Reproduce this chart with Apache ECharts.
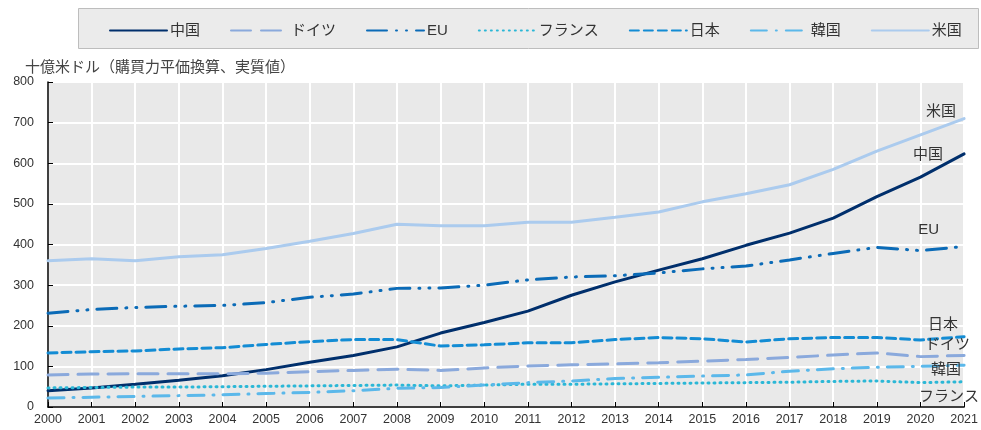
<!DOCTYPE html>
<html>
<head>
<meta charset="utf-8">
<script src="https://cdn.jsdelivr.net/npm/echarts@6/dist/echarts.min.js"></script>
<style>
  html, body { margin: 0; padding: 0; background: #fff; }
  #main { width: 981px; height: 430px; }
</style>
</head>
<body>
<div id="main"></div>
<script>
    var years = ['2000', '2001', '2002', '2003', '2004', '2005', '2006', '2007', '2008', '2009', '2010',
        '2011', '2012', '2013', '2014', '2015', '2016', '2017', '2018', '2019', '2020', '2021'];
    var yTicks = [0, 100, 200, 300, 400, 500, 600, 700, 800];
    var china = [40, 47, 56, 66, 77, 92, 110, 127, 148, 182, 208, 236, 275, 308, 337, 365, 398, 428, 465, 518, 566, 623];
    var germany = [79, 81, 82, 82, 82, 83, 87, 90, 93, 90, 96, 101, 104, 106, 109, 113, 117, 122, 128, 133, 124, 127];
    var eu = [231, 240, 245, 248, 250, 257, 270, 278, 292, 293, 300, 313, 320, 323, 330, 340, 347, 362, 378, 393, 385, 395];
    var france = [47, 48, 49, 49, 50, 51, 52, 53, 54, 52, 54, 56, 56, 57, 58, 59, 60, 61, 63, 64, 60, 62];
    var japan = [133, 136, 138, 143, 146, 154, 161, 166, 166, 150, 153, 158, 158, 166, 171, 168, 160, 168, 171, 171, 165, 173];
    var korea = [22, 24, 26, 28, 30, 33, 36, 40, 46, 48, 54, 60, 64, 70, 73, 76, 79, 88, 94, 98, 100, 103];
    var usa = [360, 365, 360, 370, 375, 390, 408, 427, 450, 446, 446, 455, 455, 467, 480, 505, 525, 547, 585, 630, 670, 710];

    var FONT = '"Liberation Sans", "Noto Sans CJK JP", sans-serif';
    var chart = echarts.init(document.getElementById('main'));

    // 系列を作る
    function makeLine(name, data, color, type, labelOffset) {
        return {
            name: name,
            type: 'line',
            data: data,
            symbol: 'none',
            smooth: false,
            z: 3,
            lineStyle: { color: color, width: 3, type: type, cap: 'round' },
            itemStyle: { color: color },
            endLabel: {
                show: true,
                formatter: name,
                align: 'right',
                verticalAlign: 'middle',
                offset: labelOffset,
                color: '#333',
                fontSize: 15,
                fontFamily: FONT
            }
        };
    }

    var series = [
        makeLine('中国', china, '#002F6C', 'solid', [-29, 1]),
        makeLine('ドイツ', germany, '#8AA9DC', [20, 10], [-2, -11]),
        makeLine('EU', eu, '#0B6BB7', [20, 9, 1, 9, 1, 9], [-33, -17]),
        makeLine('フランス', france, '#2BB7D6', [1, 5], [7, 15]),
        makeLine('日本', japan, '#138CD4', [9, 5], [-14, -12]),
        makeLine('韓国', korea, '#5BB8EA', [16, 9, 1, 9], [-11, 5]),
        makeLine('米国', usa, '#ABCBEE', 'solid', [-16, -7])
    ];

    chart.setOption({
        animation: false,
        backgroundColor: '#fff',
        textStyle: { fontFamily: FONT },
        graphic: [{
            type: 'rect',
            left: 78, top: 8,
            shape: { width: 900, height: 40 },
            style: { fill: '#ebebeb', stroke: '#bdbdbd', lineWidth: 1 },
            z: -1
        }],
        title: {
            text: '十億米ドル（購買力平価換算、実質値）',
            left: 20, top: 55,
            textStyle: { fontSize: 15, fontWeight: 'normal', color: '#444', fontFamily: FONT }
        },
        legend: {
            left: 104, top: 18,
            itemWidth: 57, itemHeight: 14,
            itemGap: 30,
            itemStyle: { opacity: 0 },
            textStyle: { fontSize: 15, color: '#333', fontFamily: FONT, padding: [0, 0, 0, -2] },
            data: series.map(function (s) { return s.name; })
        },
        grid: {
            left: 48, right: 15, top: 82, bottom: 23,
            show: true, backgroundColor: '#e9e9e9', borderWidth: 0
        },
        xAxis: {
            type: 'category',
            data: years,
            boundaryGap: false,
            axisLine: { lineStyle: { color: '#000', width: 1.5 } },
            axisTick: { inside: true, length: 5, lineStyle: { color: '#000' } },
            axisLabel: { fontSize: 12.5, color: '#333', margin: 6, fontFamily: FONT },
            splitLine: { show: true, lineStyle: { color: '#fff', width: 2 } }
        },
        yAxis: {
            type: 'value',
            min: yTicks[0], max: yTicks[yTicks.length - 1], interval: 100,
            axisLine: { show: true, lineStyle: { color: '#000', width: 1.5 } },
            axisTick: { show: true, inside: true, length: 5, lineStyle: { color: '#000' } },
            axisLabel: { fontSize: 12.5, color: '#333', margin: 14, fontFamily: FONT },
            splitLine: { show: true, lineStyle: { color: '#fff', width: 2 } }
        },
        series: series
    });
</script>
</body>
</html>
